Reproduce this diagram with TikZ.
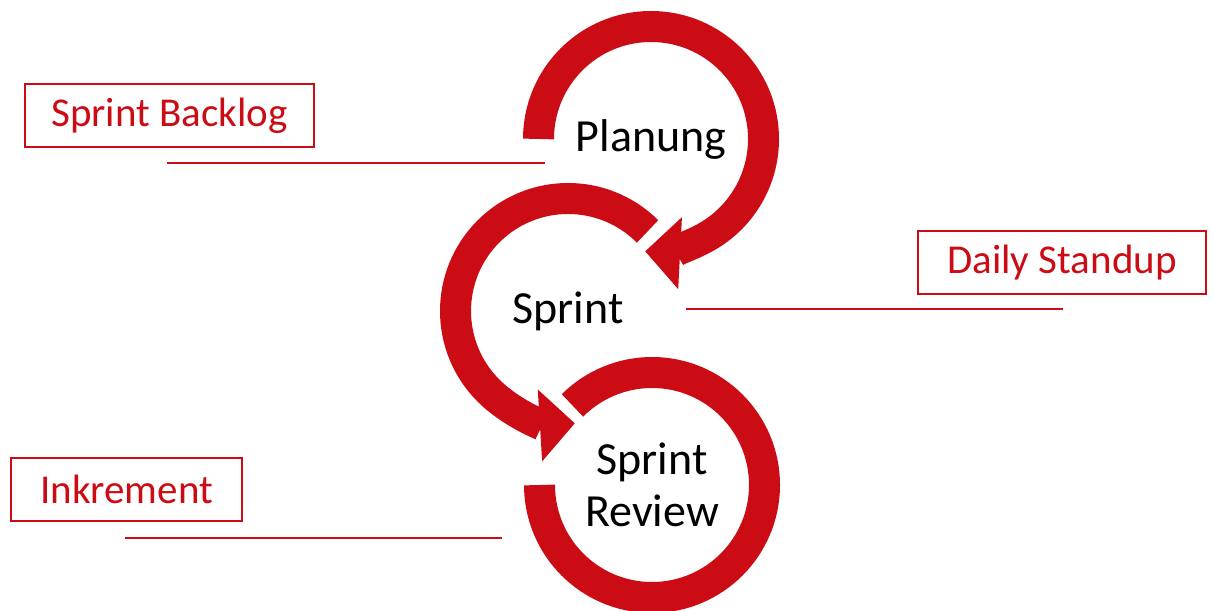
\documentclass[tikz,border=0pt]{standalone}
\usepackage{fontspec}
\setmainfont{Carlito}
\usetikzlibrary{arrows.meta}
\definecolor{scrumred}{RGB}{204,12,20}
\begin{document}
\begin{tikzpicture}[x=0.5pt,y=0.5pt]
	\tikzset{phase/.style = {font=\fontsize{23}{26}\selectfont, align=center, inner sep=0pt}}
	\tikzset{artefact/.style = {draw=scrumred, line width=1pt, text=scrumred, font=\fontsize{20.5}{24}\selectfont, minimum height=31.5pt, inner sep=0pt}}
	\tikzset{ring/.style = {draw=scrumred, line width=15.5pt}}
	\tikzset{ringarrow/.style = {ring, -{Triangle[length=17.5pt,width=35pt]}}}
	\tikzset{guide/.style = {draw=scrumred, line width=1pt}}
	\useasboundingbox (0,0) rectangle (1213,610);
	% phases
	\node[phase] (plan) at (651,471) {Planung};
	\node[phase] (sprint) at (568,299) {Sprint};
	\node[phase] (review) at (652,125) {Sprint\\Review};
	% rings
	\draw[ringarrow] ([shift={(180:56.25pt)}]plan.center) arc[start angle=180, end angle=-93, radius=56.25pt];
	\draw[ringarrow] ([shift={(45:56.25pt)}]sprint.center) arc[start angle=45, end angle=273.5, radius=56.25pt];
	\draw[ring] ([shift={(180:56.25pt)}]review.center) arc[start angle=180, end angle=495, radius=56.25pt];
	% artefacts
	\node[artefact, minimum width=144.5pt] (backlog) at (169.5,494) {Sprint Backlog};
	\node[artefact, minimum width=144pt] (standup) at (1062,347.5) {Daily Standup};
	\node[artefact, minimum width=115.5pt] (inkrement) at (126.5,120.5) {Inkrement};
	\coordinate (backlogA) at (167,447);
	\coordinate (backlogB) at (545,447);
	\coordinate (standupA) at (686,301);
	\coordinate (standupB) at (1063,301);
	\coordinate (inkrementA) at (125,72);
	\coordinate (inkrementB) at (502,72);
	\path[guide] (backlogA) -- (backlogB);
	\path[guide] (standupA) -- (standupB);
	\path[guide] (inkrementA) -- (inkrementB);
\end{tikzpicture}
\end{document}
